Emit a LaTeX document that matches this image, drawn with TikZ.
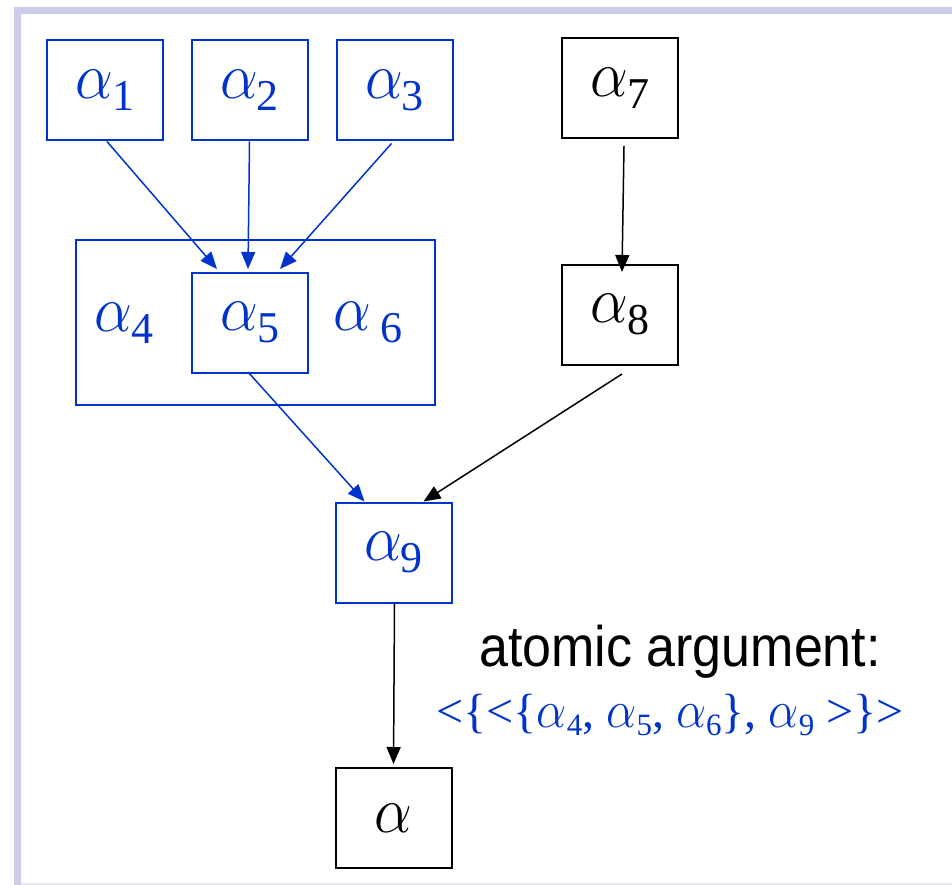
\RequirePackage{fix-cm}
\documentclass[tikz,border=0pt]{standalone}
\usepackage{fontspec}
\usepackage{graphicx}
\setmainfont{Liberation Serif}
\newfontfamily\arialfont{Liberation Sans}
\usetikzlibrary{arrows.meta,calc}
\definecolor{ablue}{RGB}{0,51,204}
\definecolor{frame}{RGB}{204,204,230}
\definecolor{framelight}{RGB}{230,230,240}
\newcommand\galpha{\scalebox{1}[1.1]{\fontsize{60}{60}\selectfont$\alpha$}}
\newcommand\gal[1]{\galpha\kern-1pt\raisebox{-12pt}{\fontsize{44}{44}\selectfont #1}}
\newcommand\fal[1]{\scalebox{1}[1.1]{\fontsize{48}{48}\selectfont$\alpha$}\raisebox{-8pt}{\fontsize{31}{31}\selectfont #1}}
\tikzset{
  abox/.style={draw, line width=2pt, inner sep=0pt, minimum width=116pt, minimum height=100pt},
  bluebox/.style={abox, draw=ablue, text=ablue},
  blackbox/.style={abox, draw=black, text=black},
  conn/.style={line width=1.5pt, -{Triangle[length=17pt,width=14pt]}},
  bconn/.style={conn, draw=ablue, fill=ablue},
  kconn/.style={conn, draw=black, fill=black},
}
\begin{document}
\begin{tikzpicture}[x=1pt,y=-1pt]
\useasboundingbox (0,0) rectangle (952,885);
% frame
\fill[frame] (14,7) rectangle (952,14);
\fill[frame] (14,7) rectangle (21,885);
\fill[framelight] (21,883) rectangle (952,885);
% boxes
\node[bluebox] (a1) at (105,90.5) {\gal{1}};
\node[bluebox] (a2) at (249.5,90.5) {\gal{2}};
\node[bluebox] (a3) at (394.5,90.5) {\gal{3}};
\node[blackbox] (a7) at (620,88) {\gal{7}};
\node[bluebox, minimum width=359pt, minimum height=165pt] (grp) at (255.5,322.5) {};
\node[bluebox] (a5) at (250,323) {\gal{5}};
\node[text=ablue] (a4) at (124,323) {\gal{4}};
\node[text=ablue] (a6) at (368,323) {\galpha\hspace{10pt}\raisebox{-12pt}{\fontsize{44}{44}\selectfont 6}};
\node[blackbox] (a8) at (620,315) {\gal{8}};
\node[bluebox] (a9) at (393.5,552.5) {\gal{9}};
\node[blackbox] (a) at (393.5,818) {\galpha};
% texts
\node[anchor=base, inner sep=0pt] (lab) at (680,666) {\scalebox{1}[1.1]{\arialfont\fontsize{52}{52}\selectfont atomic argument:}};
\node[anchor=base, inner sep=0pt, text=ablue] (form) at (670,727) {\fontsize{48}{48}\selectfont <\{<\{\fal{4}, \fal{5}, \fal{6}\}, \fal{9} >\}>};
% connectors
\draw[bconn] ([xshift=2pt]a1.south) -- ([xshift=-33pt,yshift=3pt]a5.north);
\draw[bconn] (a2.south) -- ([xshift=-2pt,yshift=3pt]a5.north);
\draw[bconn] ([xshift=-3pt,yshift=-2pt]a3.south) -- ([xshift=30pt,yshift=3pt]a5.north);
\draw[kconn] ([xshift=4pt,yshift=-7pt]a7.south) -- ([xshift=2pt,yshift=-8pt]a8.north);
\draw[bconn] ([xshift=-2pt,yshift=2pt]a5.south) -- ([xshift=-29pt]a9.north);
\draw[kconn] ([xshift=2pt,yshift=-8pt]a8.south) -- ([xshift=30pt]a9.north);
\draw[kconn] ([xshift=1pt]a9.south) -- ([yshift=3pt]a.north);
\end{tikzpicture}
\end{document}
